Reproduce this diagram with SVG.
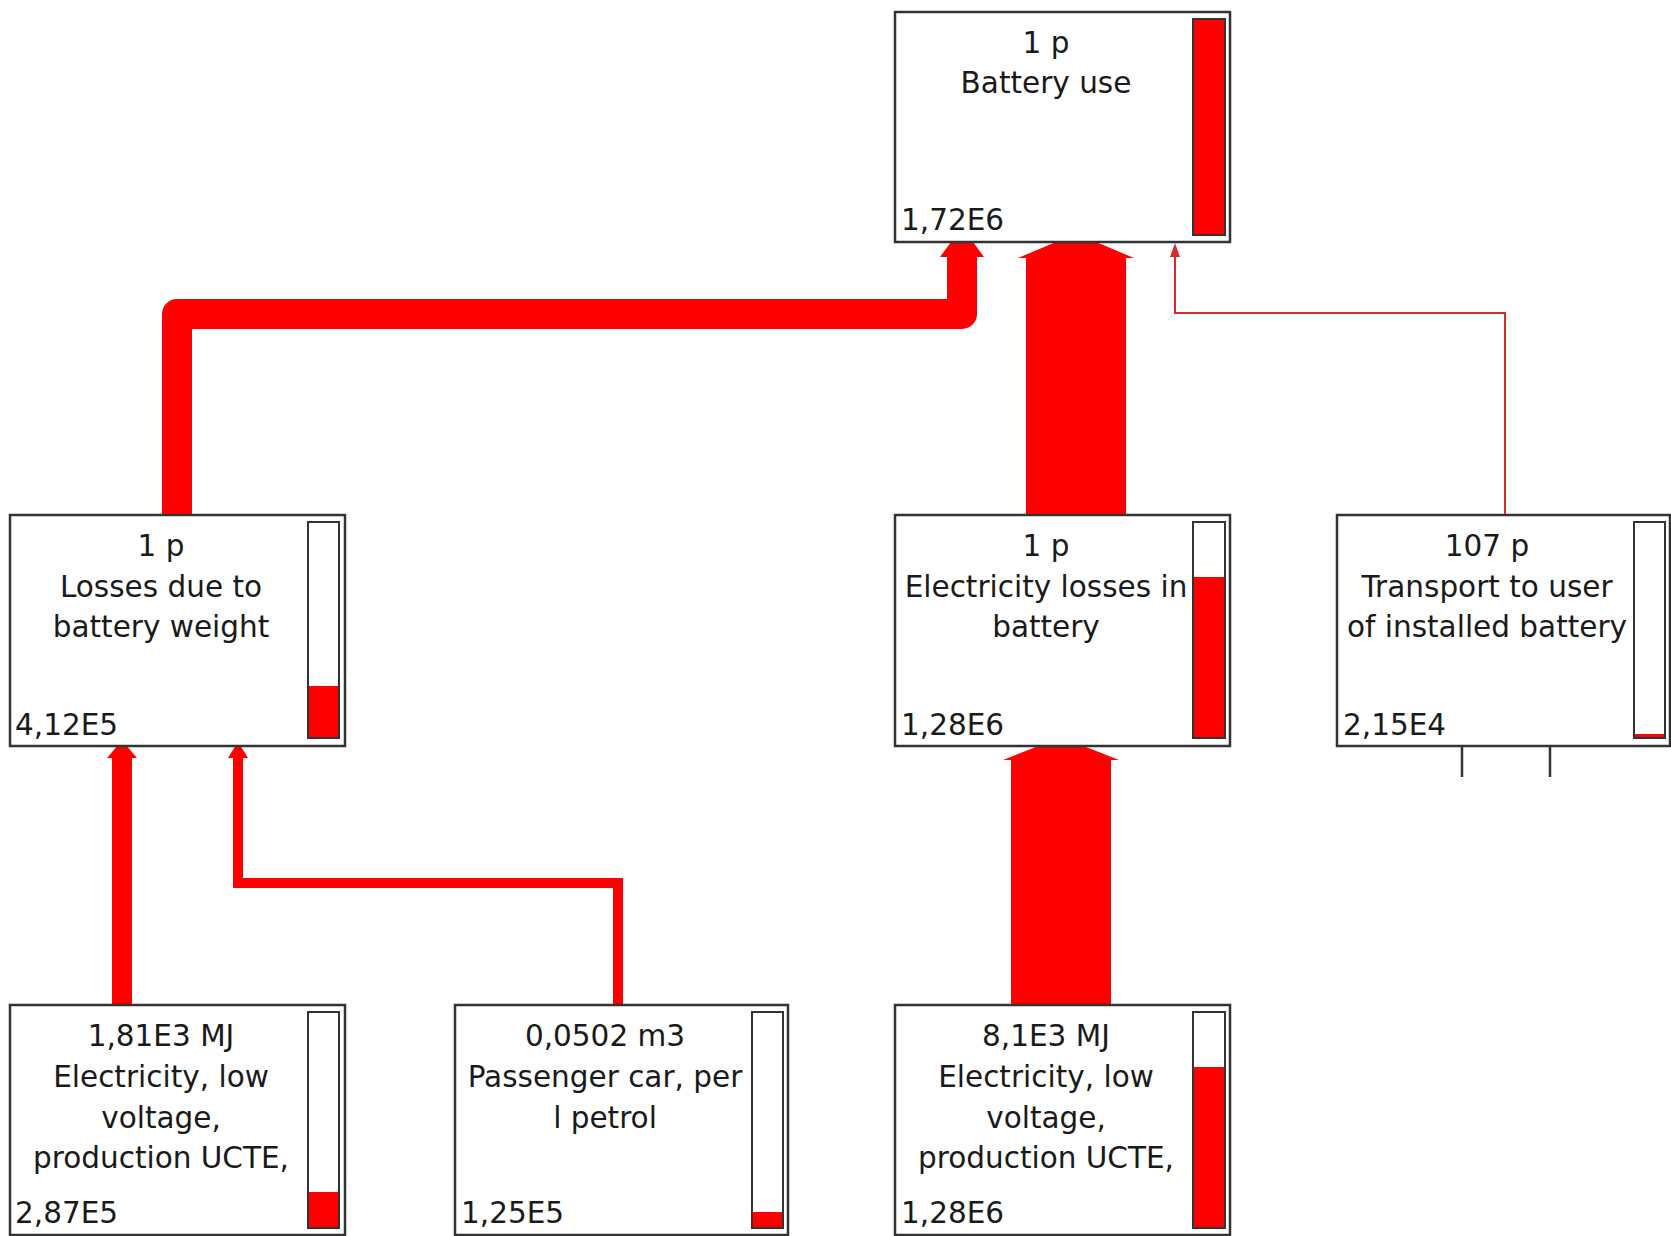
<svg xmlns="http://www.w3.org/2000/svg" width="1671" height="1236" viewBox="0 0 1671 1236">
<style>
.box{fill:#fff;stroke:#333;stroke-width:2.5}
.bar{fill:#fff;stroke:#333;stroke-width:2}
.lvl{fill:#ff0000}
.t{font-family:"DejaVu Sans",Verdana,sans-serif;font-size:29.5px;fill:#1a1a1a;text-anchor:middle}
.v{font-family:"DejaVu Sans",Verdana,sans-serif;font-size:29.5px;fill:#1a1a1a}
.flow{fill:none;stroke:#ff0000}
.head{fill:#ff0000}
</style>
<rect width="1671" height="1236" fill="#fff"/>
<g id="connectors">
  <path class="flow" d="M177 515 V314 H962 V256" stroke-width="30" stroke-linejoin="round"/>
  <polygon class="head" points="951,242 973,242 984,257 940,257"/>
  <rect class="head" x="1026" y="256" width="100" height="260"/>
  <polygon class="head" points="1056,242 1096,242 1134,258 1018,258"/>
  <path d="M1505 515 V313 H1175 V254" fill="none" stroke="#d92b2b" stroke-width="2"/>
  <polygon points="1175,243 1180,257 1170,257" fill="#d92b2b"/>
  <rect class="head" x="112" y="757" width="20" height="249"/>
  <polygon class="head" points="118,745 126,745 137,758 107,758"/>
  <path class="flow" d="M618 1005 V883 H238 V756" stroke-width="10" stroke-linejoin="miter"/>
  <polygon class="head" points="236,745 240,745 248,758 228,758"/>
  <rect class="head" x="1011" y="759" width="100" height="247"/>
  <polygon class="head" points="1041,745 1081,745 1119,760 1003,760"/>
  <path d="M1462 747 V777 M1550 747 V777" stroke="#333" stroke-width="2.5"/>
</g>
<g id="battery-use">
  <rect class="box" x="895" y="12" width="335" height="230"/>
  <rect class="bar" x="1193" y="19" width="32" height="216"/>
  <rect class="lvl" x="1194" y="20" width="30" height="214"/>
  <text class="t" x="1046" y="53">1 p</text>
  <text class="t" x="1046" y="93">Battery use</text>
  <text class="v" x="901" y="230">1,72E6</text>
</g>
<g id="losses-weight">
  <rect class="box" x="10" y="515" width="335" height="231"/>
  <rect class="bar" x="308" y="522" width="31" height="216"/>
  <rect class="lvl" x="309" y="686" width="29" height="51"/>
  <text class="t" x="161" y="556">1 p</text>
  <text class="t" x="161" y="596.5">Losses due to</text>
  <text class="t" x="161" y="637">battery weight</text>
  <text class="v" x="15" y="735">4,12E5</text>
</g>
<g id="electricity-losses">
  <rect class="box" x="895" y="515" width="335" height="231"/>
  <rect class="bar" x="1193" y="522" width="32" height="216"/>
  <rect class="lvl" x="1194" y="577" width="30" height="160"/>
  <text class="t" x="1046" y="556">1 p</text>
  <text class="t" x="1046" y="596.5">Electricity losses in</text>
  <text class="t" x="1046" y="637">battery</text>
  <text class="v" x="901" y="735">1,28E6</text>
</g>
<g id="transport">
  <rect class="box" x="1337" y="515" width="333" height="231"/>
  <rect class="bar" x="1634" y="522" width="31" height="216"/>
  <rect class="lvl" x="1635" y="734" width="29" height="3"/>
  <text class="t" x="1487" y="556">107 p</text>
  <text class="t" x="1487" y="596.5">Transport to user</text>
  <text class="t" x="1487" y="637">of installed battery</text>
  <text class="v" x="1343" y="735">2,15E4</text>
</g>
<g id="electricity-1">
  <rect class="box" x="10" y="1005" width="335" height="230"/>
  <rect class="bar" x="308" y="1012" width="31" height="216"/>
  <rect class="lvl" x="309" y="1192" width="29" height="35"/>
  <text class="t" x="161" y="1046">1,81E3 MJ</text>
  <text class="t" x="161" y="1087">Electricity, low</text>
  <text class="t" x="161" y="1127.5">voltage,</text>
  <text class="t" x="161" y="1168">production UCTE,</text>
  <text class="v" x="15" y="1223">2,87E5</text>
</g>
<g id="passenger-car">
  <rect class="box" x="455" y="1005" width="333" height="230"/>
  <rect class="bar" x="752" y="1012" width="31" height="216"/>
  <rect class="lvl" x="753" y="1212" width="29" height="15"/>
  <text class="t" x="605" y="1046">0,0502 m3</text>
  <text class="t" x="605" y="1087">Passenger car, per</text>
  <text class="t" x="605" y="1127.5">l petrol</text>
  <text class="v" x="461" y="1223">1,25E5</text>
</g>
<g id="electricity-2">
  <rect class="box" x="895" y="1005" width="335" height="230"/>
  <rect class="bar" x="1193" y="1012" width="32" height="216"/>
  <rect class="lvl" x="1194" y="1067" width="30" height="160"/>
  <text class="t" x="1046" y="1046">8,1E3 MJ</text>
  <text class="t" x="1046" y="1087">Electricity, low</text>
  <text class="t" x="1046" y="1127.5">voltage,</text>
  <text class="t" x="1046" y="1168">production UCTE,</text>
  <text class="v" x="901" y="1223">1,28E6</text>
</g>
</svg>
